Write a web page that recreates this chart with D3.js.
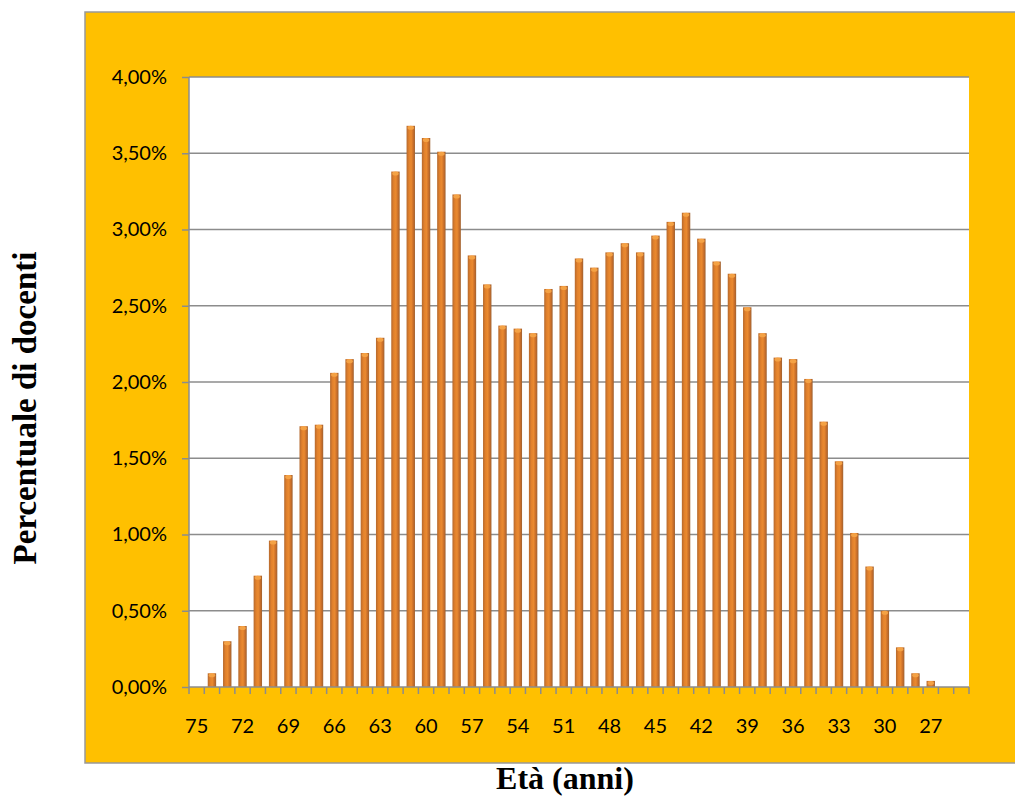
<!DOCTYPE html>
<html><head><meta charset="utf-8">
<script src="https://cdn.jsdelivr.net/npm/d3@7"></script>
<style>body{margin:0;background:#fff}svg{display:block}</style>
</head><body>
<svg id="c" width="1015" height="798"></svg>
<script>
const ages = [75,74,73,72,71,70,69,68,67,66,65,64,63,62,61,60,59,58,57,56,55,54,53,52,51,50,49,48,47,46,45,44,43,42,41,40,39,38,37,36,35,34,33,32,31,30,29,28,27,26,25];
const values = [0,0.09,0.30,0.40,0.73,0.96,1.39,1.71,1.72,2.06,2.15,2.19,2.29,3.38,3.68,3.60,3.51,3.23,2.83,2.64,2.37,2.35,2.32,2.61,2.63,2.81,2.75,2.85,2.91,2.85,2.96,3.05,3.11,2.94,2.79,2.71,2.49,2.32,2.16,2.15,2.02,1.74,1.48,1.01,0.79,0.50,0.26,0.09,0.04,0,0];
const yTicks = [0,0.5,1,1.5,2,2.5,3,3.5,4];
const xLabels = [75,72,69,66,63,60,57,54,51,48,45,42,39,36,33,30,27];

const svg = d3.select("#c");
const defs = svg.append("defs");
const g1 = defs.append("linearGradient").attr("id","bar").attr("x1","0").attr("x2","1").attr("y1","0").attr("y2","0");
[["0%","#B5692E"],["30%","#E2812C"],["55%","#EA8A30"],["80%","#C86E2A"],["100%","#9E6232"]].forEach(s=>g1.append("stop").attr("offset",s[0]).attr("stop-color",s[1]));

svg.append("rect").attr("x",85).attr("y",12).attr("width",940).attr("height",751)
  .attr("fill","#FFC000").attr("stroke","#999").attr("stroke-width",1.5);

const L=189,R=969,T=77,B=687;
const x = d3.scaleBand().domain(ages).range([L,R]).paddingInner(0.45).paddingOuter(0.225);
const y = d3.scaleLinear().domain([0,4]).range([B,T]);

svg.append("rect").attr("x",L).attr("y",T).attr("width",R-L).attr("height",B-T).attr("fill","#fff");

const yAxis = d3.axisLeft(y).tickValues(yTicks).tickSize(7).tickPadding(15)
  .tickFormat(d=>d3.format(".2f")(d).replace(".",",")+"%");
const ga = svg.append("g").attr("transform",`translate(${L},0)`).call(yAxis);
ga.select(".domain").attr("stroke","#8c8c8c").attr("stroke-width",1.5).attr("d",`M0,${T}V${B}`);
ga.selectAll(".tick line").attr("stroke","#8c8c8c").attr("stroke-width",1.5);
ga.selectAll("text").attr("font-family","Lato, 'Open Sans', sans-serif").attr("font-size",20).attr("fill","#000");

// gridlines
svg.append("g").selectAll("line").data(yTicks.filter(d=>d>0)).join("line")
  .attr("x1",L).attr("x2",R).attr("y1",d=>y(d)).attr("y2",d=>y(d))
  .attr("stroke","#8c8c8c").attr("stroke-width",1.5);

// bars
const bw = x.bandwidth();
svg.append("g").selectAll("rect").data(ages.map((a,i)=>({a,v:values[i]})).filter(d=>d.v>0)).join("rect")
  .attr("x",d=>x(d.a)).attr("y",d=>y(d.v)).attr("width",bw).attr("height",d=>B-y(d.v))
  .attr("fill","url(#bar)");
svg.append("g").selectAll("ellipse").data(ages.map((a,i)=>({a,v:values[i]})).filter(d=>d.v>0)).join("ellipse")
  .attr("cx",d=>x(d.a)+bw/2).attr("cy",d=>y(d.v)+2).attr("rx",bw/2-1).attr("ry",2)
  .attr("fill","#F4A245");

// x axis
const xb = d3.scaleLinear().domain([0,ages.length]).range([L,R]);
const gx = svg.append("g");
gx.append("line").attr("x1",L).attr("x2",R).attr("y1",B).attr("y2",B).attr("stroke","#8c8c8c").attr("stroke-width",1.5);
gx.selectAll("line.t").data(d3.range(ages.length+1)).join("line").attr("class","t")
  .attr("x1",d=>xb(d)).attr("x2",d=>xb(d)).attr("y1",B).attr("y2",B+7)
  .attr("stroke","#8c8c8c").attr("stroke-width",1.5);
gx.selectAll("text").data(xLabels).join("text")
  .attr("x",d=>x(d)+bw/2).attr("y",733).attr("text-anchor","middle")
  .attr("font-family","Lato, 'Open Sans', sans-serif").attr("font-size",20).attr("fill","#000")
  .text(d=>d);

svg.append("text").attr("x",565).attr("y",789).attr("text-anchor","middle")
  .attr("font-family","'Liberation Serif', serif").attr("font-weight","bold").attr("font-size",32)
  .text("Età (anni)");
svg.append("text").attr("transform","translate(36,408) rotate(-90)").attr("text-anchor","middle")
  .attr("font-family","'Liberation Serif', serif").attr("font-weight","bold").attr("font-size",33)
  .text("Percentuale di docenti");
</script>
</body></html>
